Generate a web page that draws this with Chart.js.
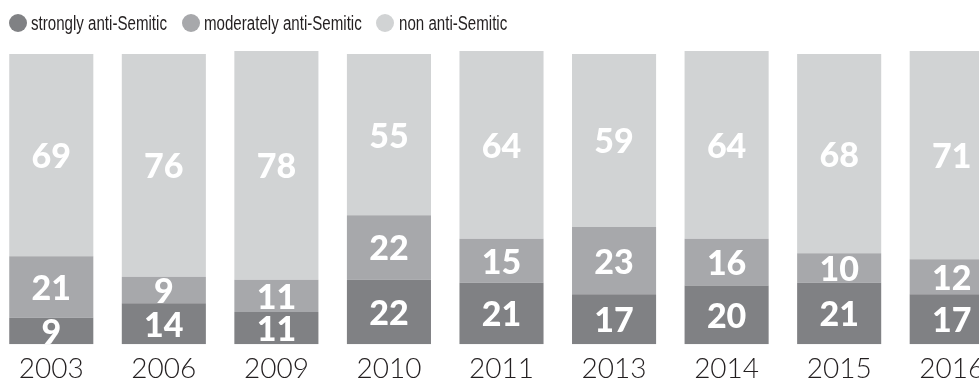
<!DOCTYPE html>
<html>
<head>
<meta charset="utf-8">
<script src="https://cdn.jsdelivr.net/npm/chart.js@4.4.7/dist/chart.umd.min.js"></script>
<style>
  html, body { margin: 0; padding: 0; background: #fff; overflow: hidden; }
  body { width: 979px; height: 381px; position: relative; }
  #wrap { position: absolute; left: -5px; top: 0; width: 1013px; height: 393px; }
  #legend { position: absolute; left: 0; top: 0; width: 979px; height: 40px; z-index: 2;
    font-family: "Liberation Sans", Arial, sans-serif; font-size: 20px; color: #231f20; }
  #legend .dot { position: absolute; top: 14px; width: 18px; height: 18px; border-radius: 50%; }
  #legend .txt { position: absolute; top: 11px; line-height: 24px; white-space: nowrap;
    transform: scaleX(0.755); transform-origin: 0 0; }
</style>
</head>
<body>
<div id="legend"></div>
<div id="wrap"><canvas id="c"></canvas></div>
<script>
const years = ['2003', '2006', '2009', '2010', '2011', '2013', '2014', '2015', '2016'];
const strongly = [9, 14, 11, 22, 21, 17, 20, 21, 17];
const moderately = [21, 9, 11, 22, 15, 23, 16, 10, 12];
const nonAnti = [69, 76, 78, 55, 64, 59, 64, 68, 71];
const seriesNames = ['strongly anti-Semitic', 'moderately anti-Semitic', 'non anti-Semitic'];
const colors = ['#808184', '#a7a8ab', '#d1d3d4'];

// legend: dot x and text x
const legendDotX = [9, 182, 376];
const legendTextX = [31, 204, 399];
const legend = document.getElementById('legend');
seriesNames.forEach((name, i) => {
  const dot = document.createElement('div');
  dot.className = 'dot';
  dot.style.left = legendDotX[i] + 'px';
  dot.style.background = colors[i];
  legend.appendChild(dot);
  const txt = document.createElement('div');
  txt.className = 'txt';
  txt.style.left = legendTextX[i] + 'px';
  txt.textContent = name;
  legend.appendChild(txt);
});

// white value labels in the middle of each segment
const segmentLabels = {
  id: 'segmentLabels',
  afterDatasetsDraw(chart) {
    const ctx = chart.ctx;
    ctx.save();
    ctx.fillStyle = '#ffffff';
    ctx.textAlign = 'center';
    ctx.textBaseline = 'middle';
    ctx.font = '900 34px Lato, "Liberation Sans", sans-serif';
    chart.data.datasets.forEach((ds, di) => {
      chart.getDatasetMeta(di).data.forEach((bar, i) => {
        const y = (bar.y + bar.base) / 2;
        ctx.fillText(String(ds.data[i]), bar.x, y + 2);
      });
    });
    ctx.restore();
  }
};

new Chart(document.getElementById('c'), {
  type: 'bar',
  data: {
    labels: years,
    datasets: [
      { label: seriesNames[0], data: strongly, backgroundColor: colors[0] },
      { label: seriesNames[1], data: moderately, backgroundColor: colors[1] },
      { label: seriesNames[2], data: nonAnti, backgroundColor: colors[2] }
    ]
  },
  options: {
    responsive: true,
    maintainAspectRatio: false,
    animation: false,
    barPercentage: 0.747,
    categoryPercentage: 1,
    layout: { padding: { top: 51, left: 0, right: 0, bottom: 0 } },
    plugins: { legend: { display: false }, tooltip: { enabled: false } },
    scales: {
      x: {
        stacked: true,
        grid: { display: false, drawTicks: false },
        border: { display: false },
        ticks: {
          padding: 9,
          color: '#231f20',
          font: { family: 'Lato, "Liberation Sans", sans-serif', size: 28, weight: 300, lineHeight: 1.1 }
        }
      },
      y: { stacked: true, display: false, min: 0, max: 100 }
    }
  },
  plugins: [segmentLabels]
});
</script>
</body>
</html>
